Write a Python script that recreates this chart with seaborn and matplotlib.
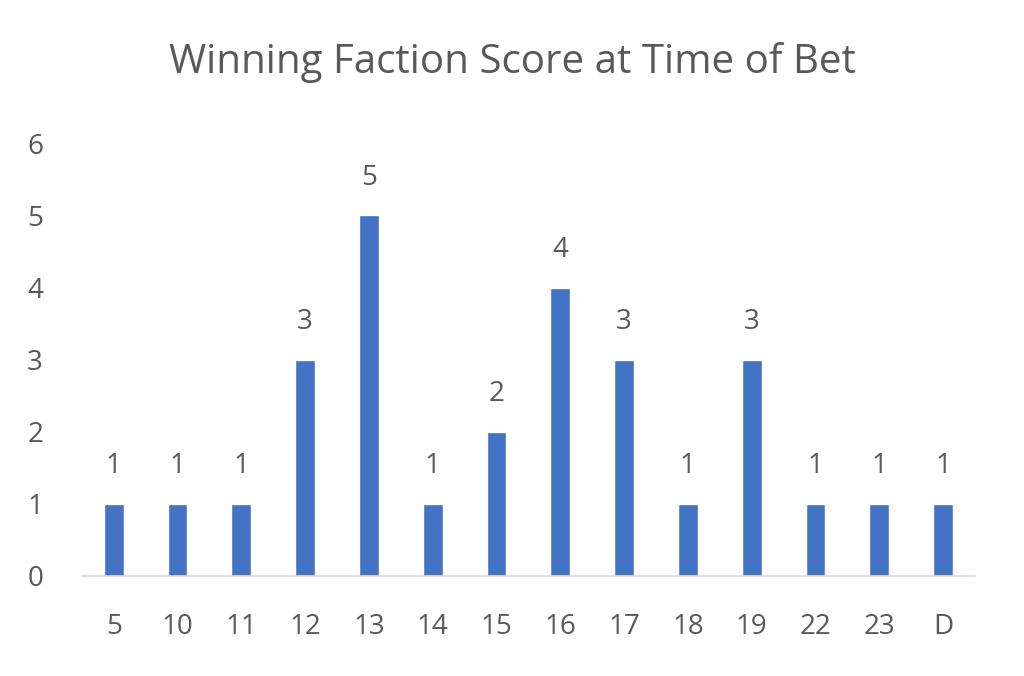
import matplotlib
matplotlib.use("Agg")
import matplotlib.pyplot as plt
import seaborn as sns
import pandas as pd

# scores at time of bet and how often each one came up
scores = ["5", "10", "11", "12", "13", "14", "15", "16", "17", "18", "19", "22", "23", "D"]
counts = [1, 1, 1, 3, 5, 1, 2, 4, 3, 1, 3, 1, 1, 1]
y_ticks = [0, 1, 2, 3, 4, 5, 6]

df = pd.DataFrame({"score": scores, "count": counts})

sns.set_style("white")
plt.rcParams["font.family"] = ["Open Sans", "DejaVu Sans"]
grey = "#595959"

fig = plt.figure(figsize=(10.24, 6.76), dpi=100)
ax = fig.add_axes([0.080, 0.148, 0.872, 0.640])

sns.barplot(data=df, x="score", y="count", order=scores, color="#4472C4",
            width=0.31, saturation=1, ax=ax)

ax.bar_label(ax.containers[0], padding=17, fontsize=20, color=grey)

ax.set_xlim(-0.5, len(scores) - 0.5)
ax.set_ylim(0, 6)
ax.set_yticks(y_ticks)
ax.set_xlabel("")
ax.set_ylabel("")
ax.tick_params(axis="both", length=0, labelsize=20, colors=grey)
ax.tick_params(axis="x", pad=27)
ax.tick_params(axis="y", pad=28)

for side in ["top", "right", "left"]:
    ax.spines[side].set_visible(False)
ax.spines["bottom"].set_color("#D9D9D9")
ax.spines["bottom"].set_linewidth(1.2)

fig.text(0.5, 0.908, "Winning Faction Score at Time of Bet", ha="center", va="center",
         fontsize=29, color=grey)

fig.savefig("out.png", dpi=100)
